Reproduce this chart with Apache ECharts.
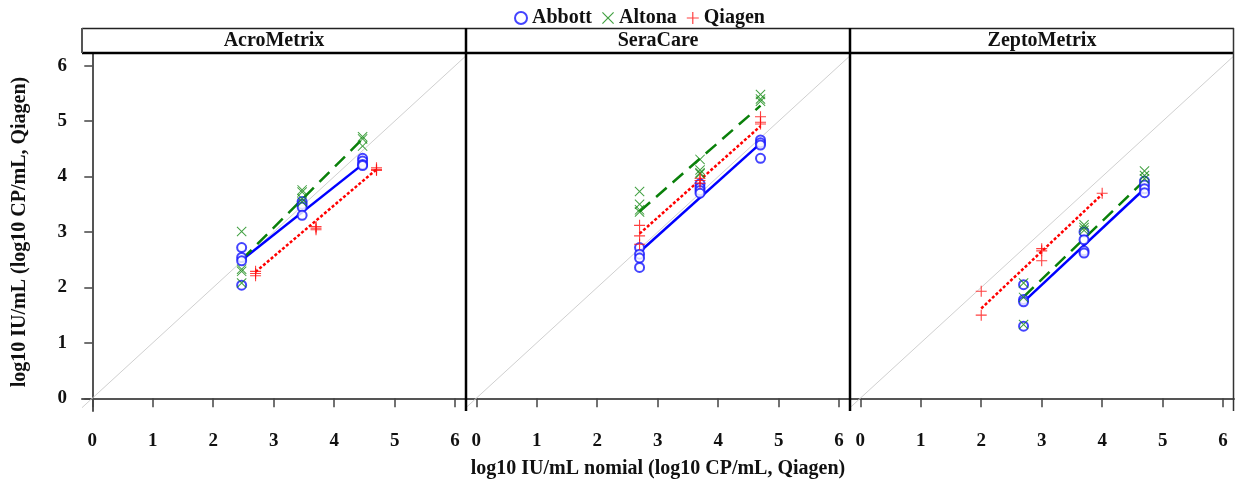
<html>
<head>
<meta charset="utf-8">
<script src="https://cdn.jsdelivr.net/npm/echarts@6/dist/echarts.min.js"></script>
<style>
  body { margin: 0; background: #fff; }
  #chart { width: 1235px; height: 486px; }
</style>
</head>
<body>
<div id="chart"></div>
<script>
// panels and methods
const panelNames = ['AcroMetrix', 'SeraCare', 'ZeptoMetrix'];
const methods = ['Abbott', 'Altona', 'Qiagen'];
const tickValues = [0, 1, 2, 3, 4, 5, 6];

// nominal x per panel, observed values per level
const abbottNominal = [[2.47, 3.47, 4.47], [2.7, 3.7, 4.7], [2.7, 3.7, 4.7]];
const abbottValues = [
  [[2.72, 2.54, 2.48, 2.04], [3.55, 3.50, 3.45, 3.30], [4.33, 4.28, 4.22, 4.20]],
  [[2.72, 2.60, 2.53, 2.36], [3.87, 3.80, 3.75, 3.70], [4.66, 4.61, 4.57, 4.33]],
  [[2.05, 1.78, 1.74, 1.30], [3.00, 2.86, 2.66, 2.62], [3.92, 3.85, 3.78, 3.71]]
];
const abbottFit = [[2.49, 4.22], [2.64, 4.60], [1.74, 3.78]];

const altonaNominal = [[2.47, 3.47, 4.47], [2.7, 3.7, 4.7], [2.7, 3.7, 4.7]];
const altonaValues = [
  [[3.01, 2.33, 2.29, 2.08], [3.76, 3.72, 3.60, 3.54], [4.72, 4.68, 4.55]],
  [[3.73, 3.50, 3.40, 3.36], [4.31, 4.12, 4.07, 4.05], [5.48, 5.40, 5.36]],
  [[2.08, 1.82, 1.33], [3.13, 3.08, 3.03], [4.10, 4.02, 3.96]]
];
const altonaFit = [[2.50, 4.68], [3.37, 5.28], [1.83, 3.93]];

const qiagenNominal = [[2.7, 3.7, 4.7], [2.7, 3.7, 4.7], [2, 3, 4]];
const qiagenValues = [
  [[2.29, 2.25, 2.21], [3.10, 3.07, 3.04], [4.16, 4.13, 4.11]],
  [[3.12, 2.93, 2.78], [3.97, 3.93, 3.88], [5.08, 4.98, 4.95]],
  [[1.93, 1.50], [2.70, 2.66, 2.48], [3.70]]
];
const qiagenFit = [[2.28, 4.13], [2.97, 4.91], [1.62, 3.68]];

// styles
const font = '"Liberation Serif", "Times New Roman", serif';
const xPath = 'path://M0,0.7 L0.7,0 L5,4.3 L9.3,0 L10,0.7 L5.7,5 L10,9.3 L9.3,10 L5,5.7 L0.7,10 L0,9.3 L4.3,5 Z';
const plusPath = 'path://M4.5,0 H5.5 V4.5 H10 V5.5 H5.5 V10 H4.5 V5.5 H0 V4.5 H4.5 Z';
const methodStyle = {
  Abbott: { color: '#1414ff', symbol: 'emptyCircle', size: 9, border: 1.1, line: 'solid', lineColor: '#0000ff' },
  Altona: { color: '#118811', symbol: xPath, size: 10, border: 0, line: [14, 8], lineColor: '#0a800a' },
  Qiagen: { color: '#ff1010', symbol: plusPath, size: 11, border: 0, line: [3, 2], lineColor: '#ff0000' }
};
const allNominal = { Abbott: abbottNominal, Altona: altonaNominal, Qiagen: qiagenNominal };
const allValues = { Abbott: abbottValues, Altona: altonaValues, Qiagen: qiagenValues };
const allFit = { Abbott: abbottFit, Altona: altonaFit, Qiagen: qiagenFit };

const xMin = -0.17, xMax = 6.18, yMin = -0.23, yMax = 6.23;
const gridLeft = [82, 466, 850];
const gridTop = 53, gridW = 384, gridH = 358;

var chart = echarts.init(document.getElementById('chart'));

var grids = [], xAxes = [], yAxes = [], series = [];
panelNames.forEach(function (name, p) {
  grids.push({ left: gridLeft[p], top: gridTop, width: gridW, height: gridH });
  xAxes.push({
    type: 'value', gridIndex: p, min: xMin, max: xMax,
    axisLine: { show: true, lineStyle: { color: '#555', width: 2 } },
    axisTick: { show: true, customValues: tickValues, length: 9, lineStyle: { color: '#444', width: 1.5 } },
    axisLabel: { customValues: tickValues, margin: 21, color: '#111', fontFamily: font, fontWeight: 'bold', fontSize: 19 },
    splitLine: { show: false },
    name: p === 1 ? 'log10 IU/mL nomial (log10 CP/mL, Qiagen)' : '',
    nameLocation: 'middle', nameGap: 48,
    nameTextStyle: { color: '#111', fontFamily: font, fontWeight: 'bold', fontSize: 20 }
  });
  yAxes.push({
    type: 'value', gridIndex: p, min: yMin, max: yMax,
    axisLine: { show: p === 0, lineStyle: { color: '#555', width: 2 } },
    axisTick: { show: p === 0, customValues: tickValues, length: 8, lineStyle: { color: '#444', width: 1.5 } },
    axisLabel: { show: p === 0, customValues: tickValues, margin: 15, color: '#111', fontFamily: font, fontWeight: 'bold', fontSize: 19 },
    splitLine: { show: false },
    name: p === 0 ? 'log10 IU/mL (log10 CP/mL, Qiagen)' : '',
    nameLocation: 'middle', nameGap: 52,
    nameTextStyle: { color: '#111', fontFamily: font, fontWeight: 'bold', fontSize: 20 }
  });

  // identity line
  series.push({
    type: 'line', xAxisIndex: p, yAxisIndex: p, silent: true, symbol: 'none',
    data: [[xMin, xMin], [xMax, xMax]],
    lineStyle: { color: '#d0d0d0', width: 1 }, z: 1
  });

  methods.forEach(function (m) {
    var st = methodStyle[m];
    var nom = allNominal[m][p];
    var fit = allFit[m][p];
    series.push({
      name: m + ' fit', type: 'line', xAxisIndex: p, yAxisIndex: p, symbol: 'none', silent: true,
      data: [[nom[0], fit[0]], [nom[nom.length - 1], fit[1]]],
      lineStyle: { color: st.lineColor, width: 2.5, type: st.line }, z: 2
    });
    var pts = [];
    allValues[m][p].forEach(function (vals, i) {
      vals.forEach(function (v) { pts.push([nom[i], v]); });
    });
    series.push({
      name: m, type: 'scatter', xAxisIndex: p, yAxisIndex: p,
      symbol: st.symbol, symbolSize: st.size,
      itemStyle: { color: st.color, borderColor: st.color, borderWidth: st.border },
      data: pts, z: 3
    });
  });
});

// strip headers and panel frame
var graphics = [
  { type: 'rect', shape: { x: 82, y: 28, width: 1152, height: 25 }, style: { fill: '#fff' }, z: 0 },
  { type: 'line', shape: { x1: 82, y1: 28.5, x2: 1234, y2: 28.5 }, style: { stroke: '#222', lineWidth: 1.5 }, z: 10 },
  { type: 'line', shape: { x1: 82, y1: 53, x2: 1234, y2: 53 }, style: { stroke: '#000', lineWidth: 2.5 }, z: 10 },
  { type: 'line', shape: { x1: 82, y1: 28, x2: 82, y2: 53 }, style: { stroke: '#555', lineWidth: 2 }, z: 10 },
  { type: 'line', shape: { x1: 466, y1: 28, x2: 466, y2: 411 }, style: { stroke: '#000', lineWidth: 2.5 }, z: 10 },
  { type: 'line', shape: { x1: 850, y1: 28, x2: 850, y2: 411 }, style: { stroke: '#000', lineWidth: 2.5 }, z: 10 },
  { type: 'line', shape: { x1: 1233.5, y1: 28, x2: 1233.5, y2: 411 }, style: { stroke: '#333', lineWidth: 1.5 }, z: 10 }
];
panelNames.forEach(function (name, p) {
  graphics.push({
    type: 'text', x: gridLeft[p] + gridW / 2, y: 41, z: 11,
    style: { text: name, align: 'center', verticalAlign: 'middle', fill: '#111', font: 'bold 20px ' + font }
  });
});

var option = {
  backgroundColor: '#fff',
  animation: false,
  legend: {
    top: 3, left: 509, itemGap: 10, itemWidth: 12, itemHeight: 12,
    textStyle: { color: '#111', fontFamily: font, fontWeight: 'bold', fontSize: 20 },
    data: [
      { name: 'Abbott', icon: 'emptyCircle' },
      { name: 'Altona', icon: xPath },
      { name: 'Qiagen', icon: plusPath }
    ]
  },
  grid: grids,
  xAxis: xAxes,
  yAxis: yAxes,
  series: series,
  graphic: graphics
};
chart.setOption(option);
</script>
</body>
</html>
